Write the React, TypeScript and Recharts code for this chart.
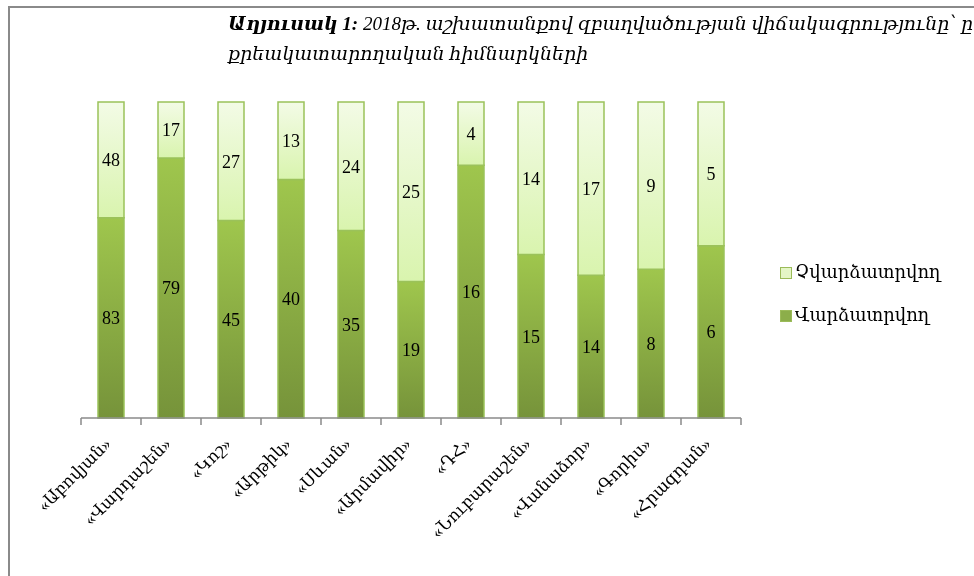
import { BarChart, Bar, XAxis, YAxis, LabelList } from "recharts";

// #region Data
const prisons = [
  "«Աբովյան»",
  "«Վարդաշեն»",
  "«Կոշ»",
  "«Արթիկ»",
  "«Սևան»",
  "«Արմավիր»",
  "«ԴՀ»",
  "«Նուբարաշեն»",
  "«Վանաձոր»",
  "«Գորիս»",
  "«Հրազդան»",
];
const paid = [83, 79, 45, 40, 35, 19, 16, 15, 14, 8, 6];
const unpaid = [48, 17, 27, 13, 24, 25, 4, 14, 17, 9, 5];
const paidName = "Վարձատրվող";
const unpaidName = "Չվարձատրվող";
// #endregion

const data = prisons.map((name, i) => ({
  name,
  paid: paid[i],
  unpaid: unpaid[i],
}));

const FONT = "'Liberation Serif', 'DejaVu Serif', serif";

const AxisTick = (props: any) => {
  const { x, y, payload, index } = props;
  const half = payload?.offset || 30;
  const last = index === prisons.length - 1;
  return (
    <g>
      <line x1={x - half} y1={y} x2={x - half} y2={y + 7} stroke="#8a8a8a" strokeWidth={1.5} />
      {last && (
        <line x1={x + half} y1={y} x2={x + half} y2={y + 7} stroke="#8a8a8a" strokeWidth={1.5} />
      )}
      <g transform={`translate(${x + 1},${y + 27})`}>
        <text
          textAnchor="end"
          transform="rotate(-45)"
          fontSize={17}
          fontFamily={FONT}
          fill="#000"
        >
          {payload.value}
        </text>
      </g>
    </g>
  );
};

const Legend = () => (
  <div
    style={{
      position: "absolute",
      left: 772,
      top: 245,
      fontFamily: FONT,
      fontSize: 18,
      color: "#000",
      lineHeight: "43px",
    }}
  >
    {[
      { name: unpaidName, fill: "#e4f6c6" },
      { name: paidName, fill: "#8cae4a" },
    ].map((it) => (
      <div key={it.name} style={{ display: "flex", alignItems: "center" }}>
        <span
          style={{
            display: "inline-block",
            width: 10,
            height: 10,
            background: it.fill,
            border: "1px solid #9bbb59",
            marginRight: 3,
          }}
        />
        {it.name}
      </div>
    ))}
  </div>
);

const App = () => {
  return (
    <div
      style={{
        position: "fixed",
        left: 8,
        top: 6,
        width: 966,
        height: 570,
        zIndex: 0,
      }}
    >
      <div
        style={{
          position: "absolute",
          left: 220,
          top: 3,
          fontFamily: FONT,
          fontSize: 19,
          fontStyle: "italic",
          lineHeight: "30px",
          whiteSpace: "nowrap",
        }}
      >
        <b>Աղյուսակ 1:</b> 2018թ. աշխատանքով զբաղվածության վիճակագրությունը՝ ըստ
        <br />
        քրեակատարողական հիմնարկների
      </div>
      <div style={{ position: "absolute", left: 0, top: 0 }}>
        <BarChart
          width={966}
          height={570}
          data={data}
          stackOffset="expand"
          barSize={26}
          margin={{ top: 96, right: 233, left: 73, bottom: 0 }}
        >
          <defs>
            <linearGradient id="paidGrad" x1="0" y1="0" x2="0" y2="1">
              <stop offset="0%" stopColor="#9fc64d" />
              <stop offset="100%" stopColor="#76933a" />
            </linearGradient>
            <linearGradient id="unpaidGrad" x1="0" y1="0" x2="0" y2="1">
              <stop offset="0%" stopColor="#f3fbe6" />
              <stop offset="100%" stopColor="#d9f4ae" />
            </linearGradient>
          </defs>
          <XAxis
            dataKey="name"
            height={158}
            interval={0}
            tick={<AxisTick />}
            tickLine={false}
            tickSize={0}
            tickMargin={0}
            axisLine={{ stroke: "#8a8a8a", strokeWidth: 1.5 }}
          />
          <YAxis hide domain={[0, 1]} />
          <Bar
            dataKey="paid"
            stackId="a"
            name={paidName}
            fill="url(#paidGrad)"
            stroke="#9bc25a"
            strokeWidth={1.5}
            isAnimationActive={false}
          >
            <LabelList
              dataKey="paid"
              position="center"
              fill="#000"
              fontSize={18}
              fontFamily={FONT}
            />
          </Bar>
          <Bar
            dataKey="unpaid"
            stackId="a"
            name={unpaidName}
            fill="url(#unpaidGrad)"
            stroke="#9bc25a"
            strokeWidth={1.5}
            isAnimationActive={false}
          >
            <LabelList
              dataKey="unpaid"
              position="center"
              fill="#000"
              fontSize={18}
              fontFamily={FONT}
            />
          </Bar>
        </BarChart>
      </div>
      <Legend />
      <div style={{ position: "absolute", left: 0, top: 0, width: 966, height: 2, background: "#8a8a8a", zIndex: 5 }} />
      <div style={{ position: "absolute", left: 0, top: 0, width: 2, height: 570, background: "#8a8a8a", zIndex: 5 }} />
    </div>
  );
};

export default App;
